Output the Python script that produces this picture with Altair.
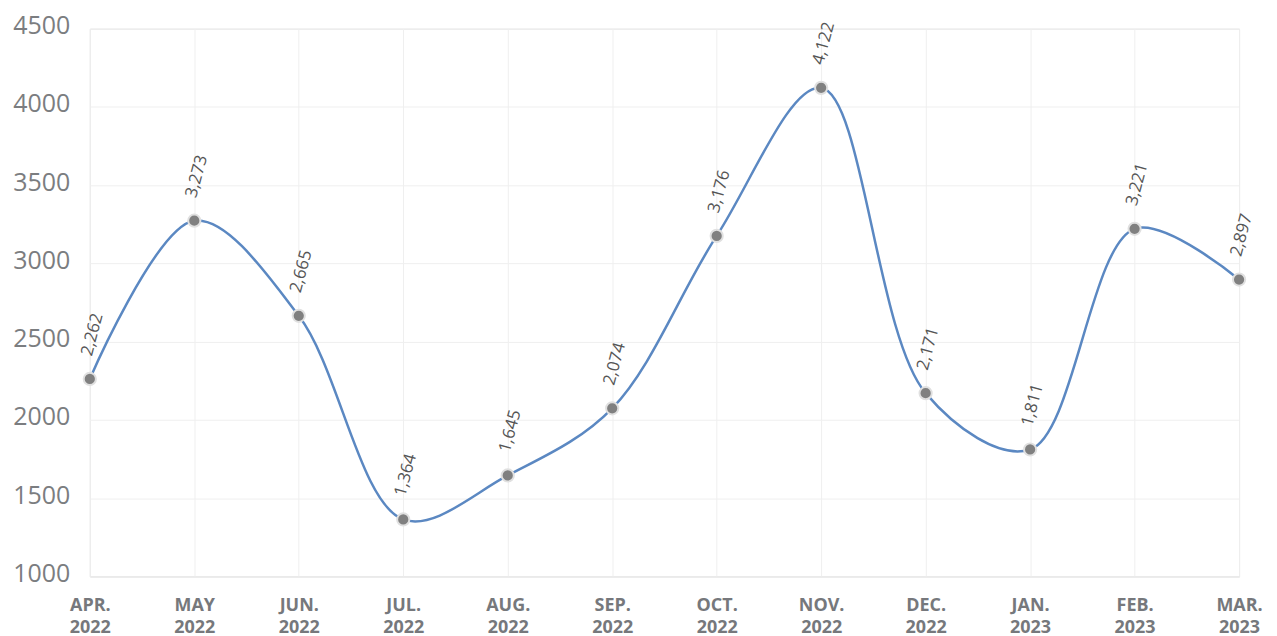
import altair as alt
import pandas as pd

months = ["APR. 2022", "MAY 2022", "JUN. 2022", "JUL. 2022", "AUG. 2022", "SEP. 2022",
          "OCT. 2022", "NOV. 2022", "DEC. 2022", "JAN. 2023", "FEB. 2023", "MAR. 2023"]
values = [2262, 3273, 2665, 1364, 1645, 2074, 3176, 4122, 2171, 1811, 3221, 2897]

df = pd.DataFrame({"month": months, "value": values})

x = alt.X("month:N", sort=months, scale=alt.Scale(type="point", padding=0),
          axis=alt.Axis(title=None, labelExpr="split(datum.value, ' ')", labelAngle=0,
                        labelFont="Open Sans", labelFontSize=18, labelFontWeight="bold",
                        labelColor="#76787c", labelPadding=20, labelLineHeight=22,
                        ticks=False, domain=True, domainColor="#e8e8e8",
                        grid=True, gridColor="#efefef", labelBaseline="top"))
y = alt.Y("value:Q", scale=alt.Scale(domain=[1000, 4500], nice=False, zero=False),
          axis=alt.Axis(title=None, values=[1000, 1500, 2000, 2500, 3000, 3500, 4000, 4500],
                        format="d", labelFont="Open Sans", labelFontSize=25,
                        labelColor="#7b7d80", labelPadding=20, labelOffset=-3,
                        ticks=False, domain=False,
                        grid=True, gridColor="#efefef"))

base = alt.Chart(df).encode(x=x, y=y)

line = base.mark_line(interpolate="catmull-rom", color="#5b88c2", strokeWidth=2.5)
pts = base.mark_point(filled=True, size=150, color="#808080", stroke="#e0e0e0",
                      strokeWidth=2, opacity=1)
labels = base.mark_text(angle=285, align="left", baseline="middle", dx=22, dy=-9,
                        font="Open Sans", fontSize=17,
                        color="#555555").encode(text=alt.Text("value:Q", format=","))

chart = (line + pts + labels).properties(
    width=1152, height=549,
    autosize=alt.AutoSizeParams(type="none"),
    padding={"left": 82, "top": 20, "right": 30, "bottom": 60},
).configure_view(stroke=None).configure(background="white")

chart.save("out.html", embed_options={"renderer": "svg", "actions": False})
